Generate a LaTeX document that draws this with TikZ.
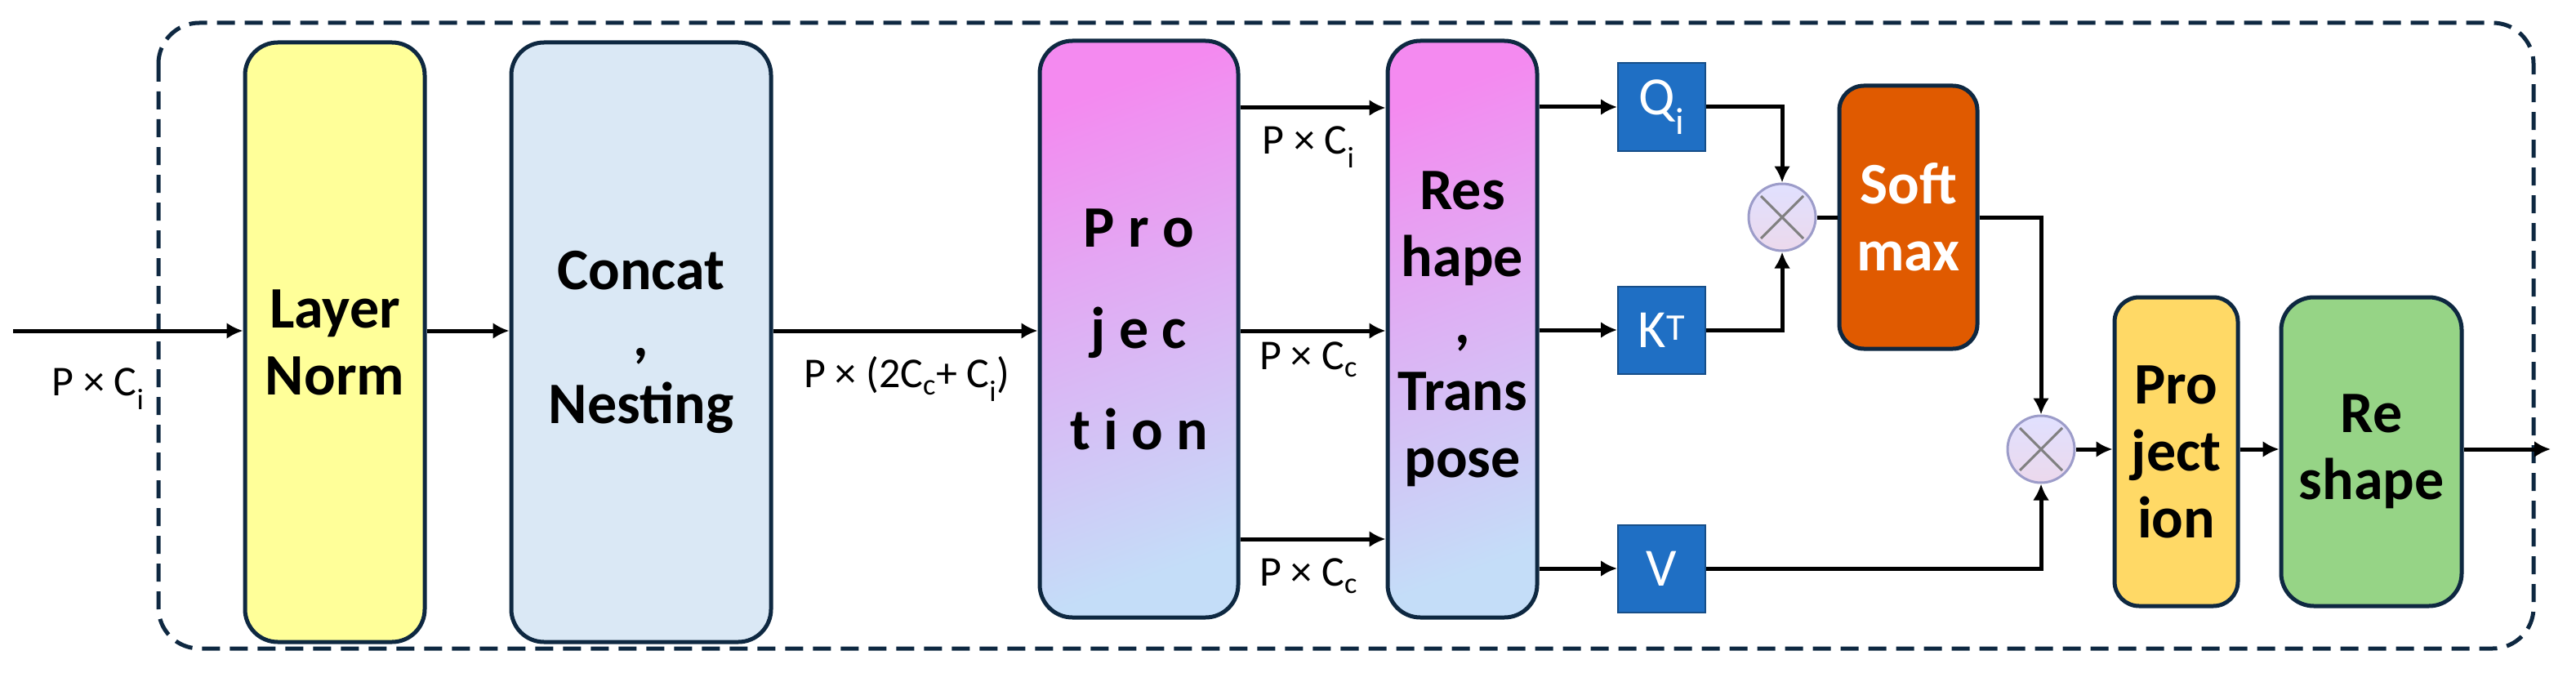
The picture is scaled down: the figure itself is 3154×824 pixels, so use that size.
\documentclass[tikz,border=0pt]{standalone}
\usepackage{fontspec}
\setmainfont{Carlito}
\usetikzlibrary{arrows.meta,calc}
\definecolor{navy}{HTML}{0E2841}
\definecolor{lnY}{HTML}{FFFF99}
\definecolor{ccB}{HTML}{DAE8F5}
\definecolor{pk}{HTML}{F48AF0}
\definecolor{lb}{HTML}{C4DDF8}
\definecolor{qb}{HTML}{1F6FC4}
\definecolor{smO}{HTML}{E05A00}
\definecolor{p2Y}{HTML}{FFD966}
\definecolor{r2G}{HTML}{96D486}
\begin{document}
\begin{tikzpicture}[x=1pt,y=-1pt,
  box/.style={draw=navy,line width=5pt,rounded corners=40pt,align=center,inner sep=0pt,
    font=\fontsize{72}{82}\selectfont\bfseries},
  grad/.style={box,shading=axis,top color=pk,bottom color=lb,shading angle=20},
  qkv/.style={draw=qb!70!black,line width=2pt,fill=qb,text=white,inner sep=0pt,
    minimum width=107pt,minimum height=107pt,font=\fontsize{66}{68}\selectfont},
  mul/.style={circle,draw=gray!70!blue!60,line width=3pt,minimum size=82pt,inner sep=0pt,
    top color=blue!12,bottom color=violet!15},
  arr/.style={line width=5pt,-{Latex[length=20pt,width=20pt]}},
  ln/.style={line width=5pt},
  lab/.style={font=\fontsize{52}{56}\selectfont}]
\useasboundingbox (0,0) rectangle (3154,824);
\draw[navy,line width=5pt,dash pattern=on 22pt off 12pt,rounded corners=50pt] (194,28) rectangle (3102,794);
\node[box,fill=lnY,minimum width=220pt,minimum height=734pt] (ln) at (410,419) {Layer\\Norm};
\node[box,fill=ccB,minimum width=318pt,minimum height=734pt] (cc) at (785,419) {Concat\\,\\Nesting};
\node[grad,minimum width=243pt,minimum height=706pt,font=\fontsize{72}{124}\selectfont\bfseries] (pj) at (1394.5,403) {P r o\\j e c\\t i o n};
\node[grad,minimum width=183pt,minimum height=706pt] (rt) at (1790.5,403) {Res\\hape\\,\\Trans\\pose};
\node[qkv] (q) at (2034.5,131) {Q\textsubscript{i}};
\node[qkv] (k) at (2034.5,404) {K$^{\mathrm{T}}$};
\node[qkv] (v) at (2034.5,696) {V};
\node[mul] (m1) at (2182,266) {};
\node[box,fill=smO,text=white,minimum width=169pt,minimum height=322pt,rounded corners=30pt] (sm) at (2336.5,266) {Soft\\max};
\node[mul] (m2) at (2499,550) {};
\node[box,fill=p2Y,minimum width=151pt,minimum height=378pt,rounded corners=30pt] (p2) at (2664.5,553) {Pro\\ject\\ion};
\node[box,fill=r2G,minimum width=221pt,minimum height=378pt] (r2) at (2903.5,553) {Re\\shape};
\foreach \m in {m1,m2}{
  \draw[gray,line width=3pt] ($(\m)+(-26,-26)$) -- ($(\m)+(26,26)$);
  \draw[gray,line width=3pt] ($(\m)+(-26,26)$) -- ($(\m)+(26,-26)$);}
\coordinate (in) at (16,405);
\coordinate (out) at (3123,550);
\draw[arr] (in) -- (ln.west|-in);
\draw[arr] (ln.east|-in) -- (cc.west|-in);
\draw[arr] (cc.east|-in) -- (pj.west|-in);
\foreach \y in {132,405,660}{\draw[arr] (pj.east|-0,\y) -- (rt.west|-0,\y);}
\draw[arr] (rt.east|-q) -- (q.west);
\draw[arr] (rt.east|-k) -- (k.west);
\draw[arr] (rt.east|-v) -- (v.west);
\draw[arr] (q.east) -| (m1.north);
\draw[arr] (k.east) -| (m1.south);
\draw[ln] (m1.east) -- (sm.west);
\draw[arr] (sm.east) -| (m2.north);
\draw[arr] (v.east) -| (m2.south);
\draw[arr] (m2.east) -- (p2.west|-m2);
\draw[arr] (p2.east|-m2) -- (r2.west|-m2);
\draw[arr] (r2.east|-m2) -- (out);
\node[lab] (l0) at (120,476) {P × C\textsubscript{i}};
\node[lab] (l1) at (1110,464) {P × (2C\textsubscript{c}+ C\textsubscript{i})};
\node[lab] (l2) at (1602,180) {P × C\textsubscript{i}};
\node[lab] (l3) at (1602,440) {P × C\textsubscript{c}};
\node[lab] (l4) at (1602,705) {P × C\textsubscript{c}};
\end{tikzpicture}
\end{document}
